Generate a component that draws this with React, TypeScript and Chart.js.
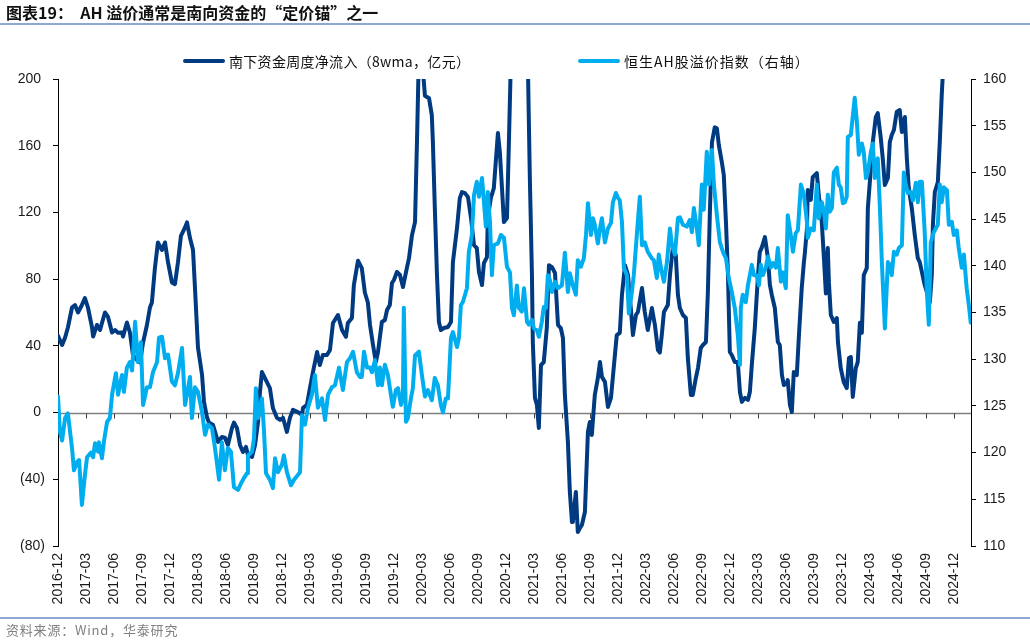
import React, { useEffect, useRef } from "react";
import { Chart, registerables } from "chart.js";

Chart.register(...registerables);

const QUARTER_LABELS = [
  "2016-12", "2017-03", "2017-06", "2017-09", "2017-12",
  "2018-03", "2018-06", "2018-09", "2018-12",
  "2019-03", "2019-06", "2019-09", "2019-12",
  "2020-03", "2020-06", "2020-09", "2020-12",
  "2021-03", "2021-06", "2021-09", "2021-12",
  "2022-03", "2022-06", "2022-09", "2022-12",
  "2023-03", "2023-06", "2023-09", "2023-12",
  "2024-03", "2024-06", "2024-09", "2024-12",
];
const WEEKS_PER_QUARTER = 13;
const LAST_WEEK = 424;

const LEFT_TICKS = [200, 160, 120, 80, 40, 0, -40, -80];
const RIGHT_TICKS = [160, 155, 150, 145, 140, 135, 130, 125, 120, 115, 110];

// 南下资金周度净流入（8wma，亿元）: weeks since start of 2016-12
const SOUTHBOUND_WEEK = [
  0, 1.9, 3.3, 4.6, 6.5, 7.9, 9.3, 11.1, 12.5, 13.9, 15.8, 16.3, 18.1, 19.5, 21.8, 23.2, 25.1, 26.5, 27.9, 29.7,
  30.2, 32.0, 33.4, 34.8, 36.7, 38.1, 39.5, 41.3, 42.7, 43.6, 45.0, 46.4, 48.3, 49.7, 51.1, 52.9, 54.3, 55.7, 57.1, 59.0,
  59.9, 61.3, 62.7, 63.6, 65.0, 66.9, 67.8, 69.2, 70.1, 72.0, 74.3, 76.1, 77.5, 78.9, 80.8, 81.7, 83.1, 84.5, 85.9, 87.3,
  88.2, 90.1, 91.5, 92.9, 93.8, 94.7, 96.1, 98.4, 99.8, 101.7, 103.1, 104.5, 106.3, 107.7, 109.1, 111.4, 113.3, 113.8, 115.6, 117.0,
  118.4, 120.3, 121.6, 123.0, 124.9, 126.3, 127.7, 130.0, 131.9, 133.7, 134.6, 136.5, 137.4, 139.3, 141.1, 142.5, 143.9, 144.9, 146.3, 147.6,
  148.6, 150.4, 151.8, 152.8, 154.1, 155.1, 156.0, 157.4, 158.8, 160.2, 162.0, 163.0, 164.4, 165.8, 166.7, 167.6, 168.5, 169.5, 170.4, 172.3,
  173.6, 174.1, 175.0, 176.0, 176.9, 177.8, 179.2, 181.1, 182.5, 183.4, 185.3, 186.6, 187.6, 189.0, 190.4, 191.8, 193.2, 194.5, 195.5, 196.9,
  197.8, 199.2, 199.6, 201.0, 202.4, 204.3, 205.2, 206.1, 207.1, 208.5, 209.4, 210.3, 212.2, 214.5, 216.8, 218.2, 219.1, 220.1, 220.5, 221.5,
  222.4, 223.3, 224.3, 225.6, 227.0, 228.0, 229.4, 230.8, 232.2, 233.5, 234.5, 235.4, 236.8, 237.7, 238.7, 239.1, 240.5, 241.4, 242.4, 243.3,
  244.7, 246.1, 247.0, 247.9, 249.3, 250.7, 251.7, 252.6, 254.0, 255.4, 256.8, 258.2, 259.5, 260.9, 261.9, 263.3, 264.7, 266.0, 267.0, 268.4,
  269.3, 271.2, 272.5, 273.9, 275.8, 277.2, 278.6, 279.5, 280.4, 281.4, 283.2, 284.2, 285.5, 286.9, 287.9, 288.8, 290.2, 291.6, 292.5, 293.9,
  294.8, 296.2, 297.2, 298.5, 299.5, 300.9, 301.8, 302.7, 303.7, 305.0, 306.0, 306.9, 308.3, 309.2, 310.2, 311.1, 312.0, 312.9, 314.3, 315.7,
  316.7, 317.6, 319.0, 320.4, 321.3, 322.2, 323.6, 325.0, 325.9, 326.9, 328.3, 329.7, 330.6, 331.5, 332.9, 334.3, 335.2, 336.2, 337.1, 338.5,
  338.9, 339.9, 340.8, 341.7, 343.1, 344.1, 345.4, 346.4, 346.8, 347.8, 348.2, 349.6, 350.5, 352.4, 353.3, 354.7, 355.7, 356.6, 357.5, 358.0,
  358.9, 360.3, 361.7, 362.2, 363.5, 364.9, 366.3, 367.3, 368.2, 369.1, 370.5, 371.4, 372.4, 373.3, 374.2, 375.6, 376.1, 377.5, 378.4, 379.8,
  380.7, 382.1, 383.0, 384.0, 385.4, 386.3, 387.2, 388.2, 389.5, 390.9, 391.9, 393.3, 394.2, 395.1, 396.5, 397.9, 399.3, 400.2, 401.2, 402.5,
  403.9, 404.9, 405.8, 406.3, 407.2, 408.6, 409.5, 410.4, 411.4, 413.2, 416.5, 420.2, 423.9,
];
const SOUTHBOUND_FLOW = [
  46, 40.5, 45, 51, 63, 64.5, 60, 64.5, 68.7, 63, 51, 45.6, 52.5, 49.5, 60, 57.5, 48, 49.5, 47.8, 48,
  45.6, 54, 48, 34.5, 31.5, 30, 42, 52.5, 63, 66, 86.6, 102, 97.5, 102, 90, 78, 77, 90, 106, 111,
  114, 104.6, 97.5, 75, 39, 22.5, 6.4, -3, -6, -7.5, -17.6, -14.6, -15, -19.4, -9.2, -6, -9.2, -19.4, -23.6, -20.6,
  -25.4, -26.6, -19.4, -5.6, 12.3, 24.3, 20.6, 14.7, 2.7, -3.2, -4.4, -3.2, -11.6, -3.2, 1.6, 0.3, -1.4, 2.8, 4.6, 14.7,
  24.3, 36.3, 28.5, 34.5, 34.5, 37.5, 53.7, 58.5, 49.5, 45.4, 53.7, 56.7, 76.5, 91, 86.6, 72, 66, 52.5, 40.5, 30.3,
  36.3, 54.3, 55.5, 61.5, 64.5, 77.7, 79.5, 84.3, 82.5, 75.3, 86.6, 92.6, 106.4, 114.2, 162, 215, 230, 205, 190, 188.5,
  178.3, 162, 122.6, 82.5, 54.3, 49.5, 50.7, 51.3, 54.3, 90.2, 110.6, 128.6, 132.2, 131.6, 129.2, 116.6, 100.4, 98.6, 84.3, 76.5,
  89.6, 93.2, 116.6, 128.6, 134.6, 167.6, 156.2, 136.4, 114.2, 116.6, 162, 210, 240, 250, 240, 210, 142.4, 82.5, 42.3, 8.8,
  4.6, -9.2, 28.5, 30.3, 50.7, 88.4, 87.2, 83.7, 52.5, 50.7, 44.7, 10.6, -17.6, -47.6, -65.6, -65.6, -47.6, -71.6, -69.2, -67.4,
  -59.6, -11.6, -5.6, -13.4, 10.6, 20.6, 30.3, 21.4, 18.4, 3.4, 8.8, 28.5, 46.5, 47.8, 70.5, 88.4, 82.5, 62.7, 46.5, 58.5,
  60.3, 74.7, 60.3, 49.5, 62.7, 52.5, 37.5, 36, 46.5, 60.3, 64.5, 82.5, 98.6, 94.4, 70.5, 62.7, 58.5, 56.7, 32.7, 10.6,
  10.6, 20.6, 26.7, 38.7, 40.5, 42.3, 72, 118.5, 162, 171, 170.4, 160.3, 150, 142.4, 114.2, 84.3, 36.3, 34.5, 30.3, 30.3,
  12.3, 6.4, 8.8, 7.6, 12.3, 28.5, 50.7, 80.7, 96.2, 99.2, 105.2, 92.6, 76.5, 70.5, 62.7, 42.3, 40.5, 22.5, 16.5, 17.7,
  19.5, 4.6, 0.4, 24.3, 22.5, 46.5, 74.7, 90.2, 95, 110, 133.4, 127.5, 141.2, 143.6, 130.4, 114.2, 92.6, 71.4, 98.6, 78.2,
  58.5, 54.3, 56.7, 42.3, 26.7, 18.3, 14.7, 32.7, 33.3, 9.4, 26.7, 30.3, 53.8, 47.8, 82.5, 86.6, 122.6, 146.6, 162.2, 177.2,
  179.6, 164.6, 152.6, 136.4, 140.6, 162.2, 166.4, 169.4, 180.2, 181.4, 168.2, 177.2, 152.6, 134.6, 122.6, 106.4, 92.6, 90.2, 84.2, 76.5,
  70.5, 66.3, 82.5, 112.5, 132.2, 138.2, 162.2, 190, 215, 240, 260, 270, 280,
];

// 恒生AH股溢价指数（右轴）: weeks since start of 2016-12
const AH_WEEK = [
  0, 0.9, 1.9, 3.3, 4.6, 6.5, 7.4, 8.8, 9.8, 11.1, 12.5, 13.5, 15.3, 16.3, 17.2, 18.6, 19.0, 20.4, 21.4, 22.8,
  24.1, 25.1, 26.9, 27.9, 29.7, 30.6, 32.0, 33.4, 34.4, 35.8, 37.1, 38.5, 39.5, 41.3, 42.7, 44.1, 46.0, 46.9, 48.3, 49.7,
  51.1, 52.9, 54.3, 55.7, 57.6, 59.0, 59.9, 61.3, 62.2, 63.6, 65.0, 66.9, 68.3, 69.6, 71.5, 72.9, 74.8, 76.1, 77.5, 78.9,
  80.3, 81.7, 83.6, 85.0, 86.4, 87.8, 88.2, 90.1, 91.0, 91.9, 92.9, 94.7, 95.6, 96.6, 98.4, 99.8, 100.8, 102.1, 104.0, 104.9,
  106.3, 108.2, 109.6, 111.4, 112.4, 113.3, 114.7, 116.1, 117.9, 119.3, 120.7, 122.6, 124.0, 125.4, 127.2, 128.6, 130.5, 132.3, 134.2, 135.6,
  137.0, 138.8, 140.2, 141.1, 142.1, 143.5, 144.9, 145.8, 147.2, 148.6, 149.5, 150.4, 151.8, 153.2, 154.6, 155.5, 156.9, 157.9, 159.3, 160.2,
  160.6, 161.6, 162.5, 163.9, 164.8, 165.8, 167.6, 169.0, 170.4, 171.8, 173.6, 175.0, 176.4, 177.8, 178.8, 180.1, 181.1, 182.5, 183.4, 185.3,
  186.2, 187.1, 188.0, 189.9, 190.8, 192.2, 193.2, 194.5, 195.5, 196.9, 197.3, 198.7, 199.6, 200.6, 201.5, 202.4, 204.3, 205.7, 207.1, 208.5,
  209.9, 210.8, 211.7, 213.1, 214.0, 215.4, 216.4, 217.8, 218.7, 220.1, 221.0, 222.4, 223.3, 224.7, 225.6, 226.6, 227.5, 228.4, 229.4, 230.8,
  232.2, 234.0, 235.4, 236.8, 237.7, 239.1, 240.5, 241.4, 242.8, 244.2, 245.2, 246.1, 247.5, 248.4, 249.3, 250.7, 251.7, 252.6, 254.0, 255.4,
  256.8, 257.7, 259.1, 260.0, 260.9, 261.9, 262.8, 264.2, 265.1, 266.5, 267.4, 268.8, 270.2, 271.2, 272.5, 273.9, 275.8, 276.7, 278.1, 279.0,
  280.4, 281.4, 282.8, 284.2, 285.1, 286.5, 287.9, 288.8, 290.2, 292.0, 293.4, 294.4, 295.3, 296.7, 297.6, 299.0, 299.9, 301.3, 302.3, 303.7,
  304.6, 306.0, 307.4, 308.8, 310.2, 311.5, 312.9, 314.3, 315.7, 316.7, 317.1, 318.0, 319.4, 320.4, 322.2, 323.2, 324.5, 325.5, 326.4, 327.3,
  328.7, 329.7, 331.0, 332.0, 333.4, 334.3, 335.7, 336.6, 338.0, 338.9, 340.3, 341.3, 342.6, 343.6, 345.0, 346.4, 347.8, 348.2, 349.6, 351.0,
  352.4, 353.3, 354.7, 355.7, 356.6, 357.5, 358.4, 359.4, 360.3, 361.7, 362.6, 363.5, 364.5, 365.4, 366.3, 366.8, 368.2, 370.0, 371.0, 371.9,
  373.3, 374.2, 375.2, 376.1, 377.5, 378.4, 379.3, 380.7, 381.7, 382.6, 384.0, 385.4, 386.3, 387.2, 388.2, 389.5, 390.5, 391.9, 392.8, 393.7,
  394.7, 396.0, 397.0, 398.4, 399.3, 400.2, 401.2, 402.5, 403.5, 404.4, 405.3, 406.7, 408.6, 409.5, 410.4, 411.4, 412.8, 413.7, 415.1, 416.0,
  417.4, 418.3, 419.7, 420.7, 422.0, 423.0, 423.9,
];
const AH_PREMIUM = [
  126, 122.2, 121.3, 123.7, 124.2, 120.5, 118.1, 119, 119.2, 114.4, 117.6, 119.5, 120, 119.5, 121, 120.1, 121.1, 119.4, 121.3, 123.3,
  123.7, 126.2, 128.5, 126.2, 128.3, 126.5, 129.1, 129.7, 128.8, 134, 129.7, 131.8, 125.1, 127, 127, 128.6, 129.7, 132.3, 132.4, 130.1,
  130.5, 127.6, 127.2, 128.5, 131.2, 125.1, 126.2, 128.1, 123.7, 127, 126.5, 124.3, 121.9, 123, 122.6, 120.5, 117.1, 121.1, 118.1, 120.5,
  120.1, 116.3, 116, 116.7, 117.3, 117.8, 119.7, 120.1, 121.5, 126.9, 123.7, 125.8, 122.6, 117.8, 117.1, 116.2, 119.4, 117.9, 118.7, 119.7,
  117.9, 116.5, 117.1, 117.6, 117.9, 124, 123, 124.8, 126.2, 128.3, 124.8, 125.8, 123.5, 126.2, 127, 127.2, 129.1, 126.7, 129.7, 130.1,
  130.8, 128.6, 128.1, 128.1, 130.8, 129.1, 129.1, 128.6, 129.9, 127.2, 129.1, 127.2, 129.4, 128.3, 126.2, 124.9, 126.7, 126.9, 125.1, 126.2,
  135.5, 123.3, 123.7, 125.8, 126.9, 130.4, 130.8, 128.3, 126, 126.7, 125.6, 128, 127.2, 125.1, 124.3, 125.8, 125.8, 132.3, 132.9, 131.3,
  132.3, 135.8, 136.1, 137.6, 141.5, 143.3, 147.6, 149, 147.4, 149.4, 148.3, 144.2, 147.9, 144.7, 139, 142.2, 142.4, 143.3, 143, 139.9,
  139.3, 135.5, 134.7, 137.9, 135.5, 135.1, 137.6, 134, 133.7, 134.2, 133.3, 133.1, 132.4, 134, 135.6, 135.5, 139, 138.5, 137.2, 138.3,
  137.6, 137.9, 141.4, 137.2, 139.2, 137.9, 136.9, 140.6, 139.9, 140.8, 143.3, 146.7, 143.3, 145.1, 144.4, 142.4, 144, 145.1, 142.5, 144,
  144.6, 146.8, 147.8, 147.3, 147, 144.7, 139.8, 139, 134.9, 137.2, 139, 143.3, 147.4, 142.2, 142.5, 141.5, 140.8, 140.6, 138.7, 141.2,
  139.3, 138.3, 140.4, 144, 142.2, 141.2, 145.1, 145.2, 144.4, 144.2, 144.9, 143.6, 146.2, 144, 142.2, 148.7, 146, 152.2, 148.7, 152.4,
  148.7, 145.4, 142.5, 141.5, 140.8, 138.7, 137.2, 135.5, 132.6, 129.4, 135.5, 136.9, 136.1, 137.9, 140.1, 139, 139, 137.9, 140.1, 139,
  139.8, 141, 139.8, 140.3, 139.8, 141.9, 138.3, 139.3, 137.6, 145.4, 143.3, 141.5, 143.5, 143.8, 148.7, 147.6, 144.7, 143, 144, 143.8,
  148.7, 145.1, 146.8, 145.8, 144, 147.6, 145.8, 146.2, 150, 150.5, 148.7, 148.4, 146.7, 146.8, 147.4, 153.8, 154, 158, 155.4, 151.9,
  153.1, 152.2, 149.4, 150, 152.2, 153.1, 149.4, 151.5, 146.2, 140.4, 133.3, 140.4, 140.1, 139, 141.5, 141.2, 141.9, 142.2, 150, 148.7,
  147.8, 147.9, 147, 148.9, 146.8, 149, 149, 143.6, 137.2, 133.7, 142.5, 143.6, 144.4, 148.7, 146.8, 148.4, 148.1, 144.4, 144.7, 143.3,
  143.8, 141.9, 139.8, 141.2, 137.6, 135.8, 133.9,
];

const DARK = "#003A80";
const LIGHT = "#00AEEF";
const RULE = "#8EA9D4";
const TICK_FONT = { family: "'Liberation Sans', Arial, sans-serif", size: 14 };
const CJK = "'Noto Sans CJK SC', 'Noto Sans', sans-serif";

const zeroAxisPlugin = {
  id: "zeroAxis",
  beforeDatasetsDraw(chart: any) {
    const { ctx, chartArea, scales } = chart;
    const y = Math.round(scales.y.getPixelForValue(0)) + 0.5;
    ctx.save();
    ctx.strokeStyle = "#7f7f7f";
    ctx.lineWidth = 1.5;
    ctx.beginPath();
    ctx.moveTo(chartArea.left, y);
    ctx.lineTo(chartArea.right, y);
    ctx.stroke();
    ctx.lineWidth = 1;
    ctx.strokeStyle = "#404040";
    ctx.beginPath();
    QUARTER_LABELS.forEach((_, i) => {
      const x = Math.round(scales.x.getPixelForValue(i * WEEKS_PER_QUARTER)) + 0.5;
      ctx.moveTo(x, y);
      ctx.lineTo(x, y + 5);
    });
    ctx.stroke();
    ctx.restore();
  },
};

export default function App() {
  const ref = useRef<HTMLCanvasElement | null>(null);

  useEffect(() => {
    if (!ref.current) return;
    const chart = new Chart(ref.current, {
      type: "line",
      data: {
        datasets: [
          {
            label: "南下资金周度净流入（8wma，亿元）",
            data: SOUTHBOUND_WEEK.map((w, i) => ({ x: w, y: SOUTHBOUND_FLOW[i] })),
            borderColor: DARK,
            backgroundColor: DARK,
            borderWidth: 4,
            pointRadius: 0,
            tension: 0,
            borderJoinStyle: "round",
            borderCapStyle: "round",
            yAxisID: "y",
            order: 2,
          },
          {
            label: "恒生AH股溢价指数（右轴）",
            data: AH_WEEK.map((w, i) => ({ x: w, y: AH_PREMIUM[i] })),
            borderColor: LIGHT,
            backgroundColor: LIGHT,
            borderWidth: 4,
            pointRadius: 0,
            tension: 0,
            borderJoinStyle: "round",
            borderCapStyle: "round",
            yAxisID: "y1",
            order: 1,
          },
        ],
      },
      options: {
        animation: false,
        responsive: false,
        maintainAspectRatio: false,
        layout: { padding: { top: 79, left: 0, right: 0, bottom: 0 } },
        plugins: { legend: { display: false }, tooltip: { enabled: false }, title: { display: false } },
        scales: {
          x: {
            type: "linear",
            min: 0,
            max: LAST_WEEK,
            afterBuildTicks: (s: any) => {
              s.ticks = QUARTER_LABELS.map((_, i) => ({ value: i * WEEKS_PER_QUARTER }));
            },
            afterFit: (s: any) => {
              s.height = 96;
            },
            ticks: {
              autoSkip: false,
              minRotation: 90,
              maxRotation: 90,
              padding: 7,
              color: "#1a1a1a",
              font: TICK_FONT,
              callback: (v: any) => QUARTER_LABELS[Math.round(Number(v) / WEEKS_PER_QUARTER)] ?? "",
            },
            grid: { display: false, drawTicks: false },
            border: { display: false },
          },
          y: {
            position: "left",
            min: -80,
            max: 200,
            afterBuildTicks: (s: any) => {
              s.ticks = LEFT_TICKS.map((v) => ({ value: v }));
            },
            afterFit: (s: any) => {
              s.width = 58;
            },
            ticks: {
              padding: 8,
              color: "#1a1a1a",
              font: TICK_FONT,
              callback: (v: any) => (Number(v) < 0 ? `(${-Number(v)})` : `${v} `),
            },
            grid: { drawOnChartArea: false, drawTicks: true, tickLength: 5, color: "#000" },
            border: { display: true, color: "#000", width: 1 },
          },
          y1: {
            position: "right",
            min: 110,
            max: 160,
            afterBuildTicks: (s: any) => {
              s.ticks = RIGHT_TICKS.map((v) => ({ value: v }));
            },
            afterFit: (s: any) => {
              s.width = 59;
            },
            ticks: { padding: 7, color: "#1a1a1a", font: TICK_FONT },
            grid: { drawOnChartArea: false, drawTicks: true, tickLength: 5, color: "#000" },
            border: { display: true, color: "#000", width: 1 },
          },
        },
      },
      plugins: [zeroAxisPlugin],
    } as any);
    return () => chart.destroy();
  }, []);

  const legendItem = (left: number, color: string, text: string, spacing: number) => (
    <div style={{ position: "absolute", left, top: 51, height: 20, display: "flex", alignItems: "center" }}>
      <div style={{ width: 42, height: 4, background: color, borderRadius: 2, marginRight: 4 }} />
      <span style={{ fontFamily: CJK, fontSize: 14, letterSpacing: spacing, color: "#111", whiteSpace: "nowrap" }}>{text}</span>
    </div>
  );

  return (
    <div style={{ position: "fixed", left: 0, top: 0, width: 1030, height: 642, background: "#fff", overflow: "hidden" }}>
      <canvas ref={ref} width={1030} height={642} style={{ position: "absolute", left: 0, top: 0, width: 1030, height: 642 }} />
      <div
        style={{
          position: "absolute", left: 6, top: 2, fontFamily: CJK, fontSize: 16, fontWeight: 700,
          color: "#111", whiteSpace: "nowrap", lineHeight: "21px",
        }}
      >
        图表19：&nbsp;&nbsp;AH 溢价通常是南向资金的“定价锚”之一
      </div>
      <div style={{ position: "absolute", left: 0, top: 23, width: 1030, height: 2, background: RULE }} />
      {legendItem(183, DARK, "南下资金周度净流入（8wma，亿元）", 0.3)}
      {legendItem(578, LIGHT, "恒生AH股溢价指数（右轴）", 1)}
      <div style={{ position: "absolute", left: 0, top: 617, width: 1030, height: 2, background: RULE }} />
      <div
        style={{
          position: "absolute", left: 6, top: 621, fontFamily: CJK, fontSize: 13, letterSpacing: 0.8, color: "#808080",
          whiteSpace: "nowrap", lineHeight: "18px",
        }}
      >
        资料来源：Wind，华泰研究
      </div>
    </div>
  );
}
